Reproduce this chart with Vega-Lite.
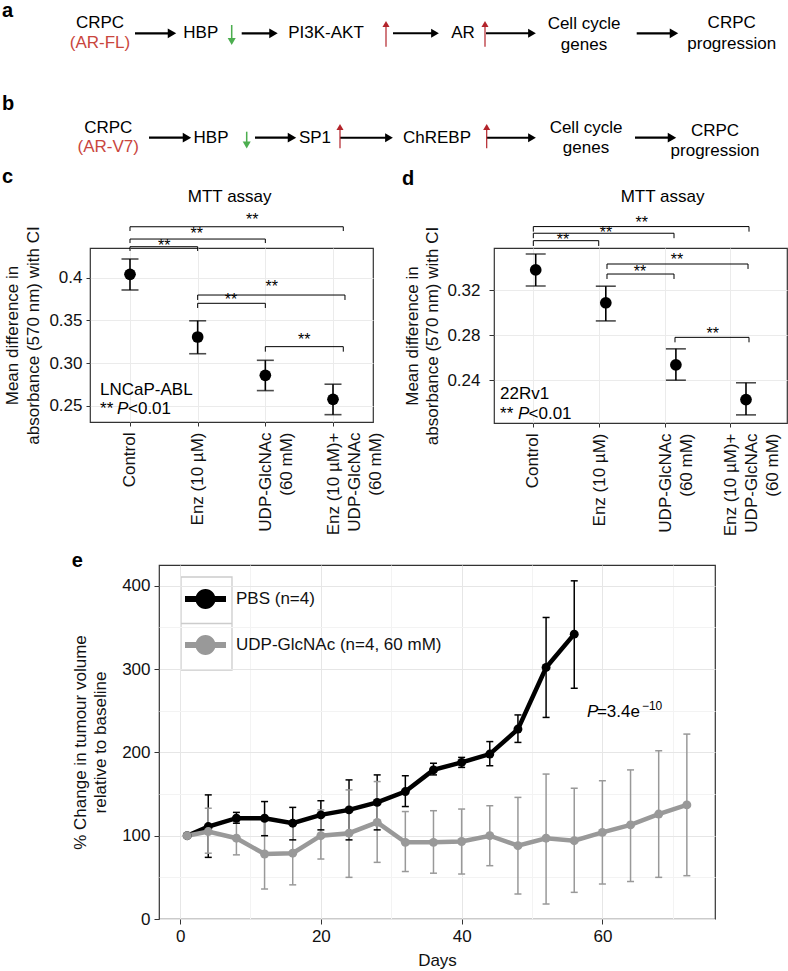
{
  "$schema": "https://vega.github.io/schema/vega-lite/v6.json",
  "background": "white",
  "padding": {"left": 2, "top": 0, "right": 0, "bottom": 0},
  "bounds": "flush",
  "spacing": 142,
  "resolve": {
    "scale": {"color": "independent", "fill": "independent", "stroke": "independent", "shape": "independent", "size": "independent", "strokeWidth": "independent"},
    "legend": {"fill": "independent", "shape": "independent"}
  },
  "config": {
    "font": "Liberation Sans",
    "view": {"stroke": "#333333", "strokeWidth": 1.2},
    "axis": {"domain": false, "labelFontSize": 17, "labelColor": "#111111", "titleFontSize": 17, "titleFontWeight": "normal", "titleColor": "#111111", "tickColor": "#333333", "gridColor": "#ebebeb", "labelOverlap": false, "labelFlush": false}
  },
  "vconcat": [
    {
      "width": 698,
      "height": 106,
      "view": {"stroke": null, "fill": "white"},
      "layer": [
        {
          "data": {"values": [
            {"t": "CRPC", "x": 100, "y": 23.3, "kind": "node"},
            {"t": "(AR-FL)", "x": 100, "y": 43.3, "kind": "variant"},
            {"t": "HBP", "x": 200.8, "y": 33.3, "kind": "node"},
            {"t": "PI3K-AKT", "x": 326, "y": 33.3, "kind": "node"},
            {"t": "AR", "x": 463, "y": 33.3, "kind": "node"},
            {"t": "Cell cycle", "x": 584, "y": 24, "kind": "node"},
            {"t": "genes", "x": 584, "y": 45, "kind": "node"},
            {"t": "CRPC", "x": 731.7, "y": 23.3, "kind": "node"},
            {"t": "progression", "x": 731.7, "y": 44, "kind": "node"},
            {"t": "CRPC", "x": 108.3, "y": 127.7, "kind": "node"},
            {"t": "(AR-V7)", "x": 108.3, "y": 146.7, "kind": "variant"},
            {"t": "HBP", "x": 211, "y": 137.7, "kind": "node"},
            {"t": "SP1", "x": 315, "y": 137.7, "kind": "node"},
            {"t": "ChREBP", "x": 437, "y": 137.7, "kind": "node"},
            {"t": "Cell cycle", "x": 586, "y": 128.3, "kind": "node"},
            {"t": "genes", "x": 586, "y": 148.3, "kind": "node"},
            {"t": "CRPC", "x": 715, "y": 130.7, "kind": "node"},
            {"t": "progression", "x": 715, "y": 150.7, "kind": "node"}
          ]},
          "mark": {"type": "text", "fontSize": 17, "align": "center", "baseline": "middle"},
          "encoding": {
            "x": {"field": "x", "type": "quantitative", "scale": {"domain": [90, 788], "nice": false, "zero": false}, "axis": null},
            "y": {"field": "y", "type": "quantitative", "scale": {"domain": [0, 106], "reverse": true, "nice": false, "zero": false}, "axis": null},
            "text": {"field": "t"},
            "color": {"field": "kind", "type": "nominal", "scale": {"domain": ["node", "variant", "major", "minor", "down", "up"], "range": ["#000000", "#c9463d", "#000000", "#000000", "#4cae4f", "#b3232a"]}, "legend": null}
          }
        },
        {
          "data": {"values": [
            {"x": 135, "y": 33.3, "x2": 172, "y2": 33.3, "kind": "major"},
            {"x": 241.7, "y": 33.3, "x2": 273.5, "y2": 33.3, "kind": "major"},
            {"x": 393, "y": 33.3, "x2": 435, "y2": 33.3, "kind": "minor"},
            {"x": 486, "y": 33.3, "x2": 532, "y2": 33.3, "kind": "minor"},
            {"x": 636.7, "y": 33.3, "x2": 674, "y2": 33.3, "kind": "major"},
            {"x": 231.7, "y": 25, "x2": 231.7, "y2": 41.5, "kind": "down"},
            {"x": 386, "y": 46.7, "x2": 386, "y2": 24, "kind": "up"},
            {"x": 485, "y": 46.7, "x2": 485, "y2": 24, "kind": "up"},
            {"x": 149, "y": 137.7, "x2": 187, "y2": 137.7, "kind": "major"},
            {"x": 255, "y": 137.7, "x2": 292, "y2": 137.7, "kind": "major"},
            {"x": 340, "y": 137.7, "x2": 389, "y2": 137.7, "kind": "minor"},
            {"x": 486.7, "y": 137.7, "x2": 532, "y2": 137.7, "kind": "minor"},
            {"x": 635, "y": 137.7, "x2": 672, "y2": 137.7, "kind": "major"},
            {"x": 246.7, "y": 131.7, "x2": 246.7, "y2": 145, "kind": "down"},
            {"x": 340, "y": 148.3, "x2": 340, "y2": 127, "kind": "up"},
            {"x": 486.7, "y": 148.3, "x2": 486.7, "y2": 127, "kind": "up"}
          ]},
          "layer": [
            {
              "mark": {"type": "rule"},
              "encoding": {
                "x": {"field": "x", "type": "quantitative", "scale": {"domain": [90, 788], "nice": false, "zero": false}, "axis": null},
                "y": {"field": "y", "type": "quantitative", "scale": {"domain": [0, 106], "reverse": true, "nice": false, "zero": false}, "axis": null},
                "x2": {"field": "x2"},
                "y2": {"field": "y2"},
                "color": {"field": "kind", "type": "nominal", "scale": {"domain": ["node", "variant", "major", "minor", "down", "up"], "range": ["#000000", "#c9463d", "#000000", "#000000", "#4cae4f", "#b3232a"]}, "legend": null},
                "strokeWidth": {"field": "kind", "type": "nominal", "scale": {"domain": ["major", "minor", "down", "up"], "range": [2.2, 1.2, 2.8, 2.8]}, "legend": null}
              }
            },
            {
              "mark": {"type": "point", "filled": true, "opacity": 1},
              "encoding": {
                "x": {"field": "x2", "type": "quantitative", "scale": {"domain": [90, 788], "nice": false, "zero": false}, "axis": null},
                "y": {"field": "y2", "type": "quantitative", "scale": {"domain": [0, 106], "reverse": true, "nice": false, "zero": false}, "axis": null},
                "color": {"field": "kind", "type": "nominal", "scale": {"domain": ["node", "variant", "major", "minor", "down", "up"], "range": ["#000000", "#c9463d", "#000000", "#000000", "#4cae4f", "#b3232a"]}, "legend": null},
                "shape": {"field": "kind", "type": "nominal", "scale": {"domain": ["major", "minor", "down", "up"], "range": ["triangle-right", "triangle-right", "triangle-down", "triangle-up"]}, "legend": null},
                "size": {"field": "kind", "type": "nominal", "scale": {"domain": ["major", "minor", "down", "up"], "range": [95, 50, 110, 110]}, "legend": null}
              }
            }
          ]
        },
        {
          "data": {"values": [
            {"t": "a", "x": 2, "y": 17},
            {"t": "b", "x": 2, "y": 110},
            {"t": "c", "x": 2, "y": 183},
            {"t": "d", "x": 402, "y": 185}
          ]},
          "mark": {"type": "text", "fontSize": 20, "fontWeight": "bold", "align": "left", "baseline": "alphabetic", "color": "#000000"},
          "encoding": {
            "x": {"field": "x", "type": "quantitative", "scale": {"domain": [90, 788], "nice": false, "zero": false}, "axis": null},
            "y": {"field": "y", "type": "quantitative", "scale": {"domain": [0, 106], "reverse": true, "nice": false, "zero": false}, "axis": null},
            "text": {"field": "t"}
          }
        }
      ]
    },
    {
      "hconcat": [
        {
          "width": 283,
          "height": 174,
          "layer": [
            {
              "data": {"values": [
                {"pos": 1, "treatment": "Control", "mean": 0.404, "lo": 0.3856, "hi": 0.4219},
                {"pos": 2, "treatment": "Enz (10 µM)", "mean": 0.3305, "lo": 0.3109, "hi": 0.3495},
                {"pos": 3, "treatment": "UDP-GlcNAc (60 mM)", "mean": 0.2856, "lo": 0.2677, "hi": 0.3032},
                {"pos": 4, "treatment": "Enz (10 µM)+UDP-GlcNAc (60 mM)", "mean": 0.2575, "lo": 0.2395, "hi": 0.2752}
              ]},
              "layer": [
                {
                  "mark": {"type": "rule", "strokeWidth": 1.6, "color": "#000000"},
                  "encoding": {
                    "x": {"field": "pos", "type": "quantitative", "scale": {"domain": [0.409, 4.591], "nice": false, "zero": false},
                      "axis": {"values": [1, 2, 3, 4], "labelExpr": "datum.value == 1 ? 'Control' : datum.value == 2 ? 'Enz (10 µM)' : datum.value == 3 ? ['UDP-GlcNAc', '(60 mM)'] : ['Enz (10 µM)+', 'UDP-GlcNAc', '(60 mM)']", "labelAngle": 270, "labelAlign": "right", "labelBaseline": "middle", "labelPadding": 6, "labelLineHeight": 21, "tickSize": 4, "grid": true, "title": null}},
                    "y": {"field": "lo", "type": "quantitative", "scale": {"domain": [0.2309, 0.4348], "nice": false, "zero": false},
                      "axis": {"values": [0.25, 0.3, 0.35, 0.4], "labelExpr": "datum.value > 0.39 ? '0.4' : format(datum.value, '.2f')", "tickSize": 4, "labelPadding": 4, "grid": true, "title": ["Mean difference in", "absorbance (570 nm) with CI"], "titlePadding": 6, "titleLineHeight": 21}},
                    "y2": {"field": "hi"}
                  }
                },
                {
                  "mark": {"type": "tick", "orient": "horizontal", "size": 17, "thickness": 1.6, "color": "#000000"},
                  "encoding": {"x": {"field": "pos", "type": "quantitative"}, "y": {"field": "lo", "type": "quantitative"}}
                },
                {
                  "mark": {"type": "tick", "orient": "horizontal", "size": 17, "thickness": 1.6, "color": "#000000"},
                  "encoding": {"x": {"field": "pos", "type": "quantitative"}, "y": {"field": "hi", "type": "quantitative"}}
                },
                {
                  "mark": {"type": "point", "filled": true, "size": 137, "opacity": 1, "color": "#000000"},
                  "encoding": {"x": {"field": "pos", "type": "quantitative"}, "y": {"field": "mean", "type": "quantitative"}}
                }
              ]
            },
            {
              "data": {"values": [
                {"x1": 1, "x2": 2, "y": 0.4363, "yEnd": 0.4313, "sx": 1.507, "sy": 0.4406},
                {"x1": 1, "x2": 3, "y": 0.4453, "yEnd": 0.4406, "sx": 1.986, "sy": 0.4547},
                {"x1": 1, "x2": 4.152, "y": 0.4597, "yEnd": 0.4547, "sx": 2.807, "sy": 0.4707},
                {"x1": 2, "x2": 4.177, "y": 0.3797, "yEnd": 0.3739, "sx": 3.094, "sy": 0.3926},
                {"x1": 2, "x2": 3, "y": 0.370, "yEnd": 0.3645, "sx": 2.493, "sy": 0.377},
                {"x1": 3, "x2": 4.152, "y": 0.3192, "yEnd": 0.3133, "sx": 3.576, "sy": 0.3302}
              ]},
              "layer": [
                {"mark": {"type": "rule", "strokeWidth": 1, "color": "#000000"},
                 "encoding": {"x": {"field": "x1", "type": "quantitative"}, "x2": {"field": "x2"}, "y": {"field": "y", "type": "quantitative"}}},
                {"mark": {"type": "rule", "strokeWidth": 1, "color": "#000000"},
                 "encoding": {"x": {"field": "x1", "type": "quantitative"}, "y": {"field": "y", "type": "quantitative"}, "y2": {"field": "yEnd"}}},
                {"mark": {"type": "rule", "strokeWidth": 1, "color": "#000000"},
                 "encoding": {"x": {"field": "x2", "type": "quantitative"}, "y": {"field": "y", "type": "quantitative"}, "y2": {"field": "yEnd"}}},
                {"mark": {"type": "text", "text": "**", "fontSize": 16, "baseline": "middle", "align": "center", "dy": 3, "color": "#000000"},
                 "encoding": {"x": {"field": "sx", "type": "quantitative"}, "y": {"field": "sy", "type": "quantitative"}}}
              ]
            },
            {
              "data": {"values": [{}]},
              "layer": [
                {"mark": {"type": "text", "text": "MTT assay", "fontSize": 17, "align": "center", "baseline": "middle", "color": "#000000"},
                 "encoding": {"x": {"datum": 2.473, "type": "quantitative"}, "y": {"datum": 0.4945, "type": "quantitative"}}},
                {"mark": {"type": "text", "text": "LNCaP-ABL", "fontSize": 17, "align": "left", "baseline": "middle", "color": "#000000"},
                 "encoding": {"x": {"datum": 0.557, "type": "quantitative"}, "y": {"datum": 0.2685, "type": "quantitative"}}},
                {"mark": {"type": "text", "text": "**", "fontSize": 17, "align": "left", "baseline": "middle", "color": "#000000"},
                 "encoding": {"x": {"datum": 0.557, "type": "quantitative"}, "y": {"datum": 0.2459, "type": "quantitative"}}},
                {"mark": {"type": "text", "text": "P", "fontSize": 17, "fontStyle": "italic", "align": "left", "baseline": "middle", "dx": 17, "color": "#000000"},
                 "encoding": {"x": {"datum": 0.557, "type": "quantitative"}, "y": {"datum": 0.2459, "type": "quantitative"}}},
                {"mark": {"type": "text", "text": "<0.01", "fontSize": 17, "align": "left", "baseline": "middle", "dx": 28, "color": "#000000"},
                 "encoding": {"x": {"datum": 0.557, "type": "quantitative"}, "y": {"datum": 0.2459, "type": "quantitative"}}}
              ]
            }
          ]
        },
        {
          "width": 293,
          "height": 175,
          "layer": [
            {
              "data": {"values": [
                {"pos": 1, "treatment": "Control", "mean": 0.3378, "lo": 0.3236, "hi": 0.352},
                {"pos": 2, "treatment": "Enz (10 µM)", "mean": 0.3087, "lo": 0.2926, "hi": 0.3234},
                {"pos": 3, "treatment": "UDP-GlcNAc (60 mM)", "mean": 0.2536, "lo": 0.24, "hi": 0.2678},
                {"pos": 4, "treatment": "Enz (10 µM)+UDP-GlcNAc (60 mM)", "mean": 0.2228, "lo": 0.2092, "hi": 0.2377}
              ]},
              "layer": [
                {
                  "mark": {"type": "rule", "strokeWidth": 1.6, "color": "#000000"},
                  "encoding": {
                    "x": {"field": "pos", "type": "quantitative", "scale": {"domain": [0.405, 4.585], "nice": false, "zero": false},
                      "axis": {"values": [0.961, 1.907, 2.845, 3.772], "labelExpr": "datum.value < 1.5 ? 'Control' : datum.value < 2.4 ? 'Enz (10 µM)' : datum.value < 3.3 ? ['UDP-GlcNAc', '(60 mM)'] : ['Enz (10 µM)+', 'UDP-GlcNAc', '(60 mM)']", "labelAngle": 270, "labelAlign": "right", "labelBaseline": "middle", "labelPadding": 6, "labelLineHeight": 21, "tickSize": 4, "grid": true, "title": null}},
                    "y": {"field": "lo", "type": "quantitative", "scale": {"domain": [0.202, 0.3573], "nice": false, "zero": false},
                      "axis": {"values": [0.24, 0.28, 0.32], "format": ".2f", "tickSize": 5, "labelPadding": 9, "grid": true, "title": ["Mean difference in", "absorbance (570 nm) with CI"], "titlePadding": 5, "titleLineHeight": 20}},
                    "y2": {"field": "hi"}
                  }
                },
                {
                  "mark": {"type": "tick", "orient": "horizontal", "size": 20, "thickness": 1.6, "color": "#000000"},
                  "encoding": {"x": {"field": "pos", "type": "quantitative"}, "y": {"field": "lo", "type": "quantitative"}}
                },
                {
                  "mark": {"type": "tick", "orient": "horizontal", "size": 20, "thickness": 1.6, "color": "#000000"},
                  "encoding": {"x": {"field": "pos", "type": "quantitative"}, "y": {"field": "hi", "type": "quantitative"}}
                },
                {
                  "mark": {"type": "point", "filled": true, "size": 137, "opacity": 1, "color": "#000000"},
                  "encoding": {"x": {"field": "pos", "type": "quantitative"}, "y": {"field": "mean", "type": "quantitative"}}
                }
              ]
            },
            {
              "data": {"values": [
                {"x1": 0.966, "x2": 1.899, "y": 0.3638, "yEnd": 0.3591, "sx": 1.39, "sy": 0.3674},
                {"x1": 0.966, "x2": 2.973, "y": 0.3704, "yEnd": 0.366, "sx": 2.003, "sy": 0.3733},
                {"x1": 0.966, "x2": 4.043, "y": 0.3763, "yEnd": 0.3718, "sx": 2.512, "sy": 0.3822},
                {"x1": 2.017, "x2": 4.029, "y": 0.3431, "yEnd": 0.3387, "sx": 3.016, "sy": 0.3491},
                {"x1": 2.017, "x2": 2.973, "y": 0.3342, "yEnd": 0.3298, "sx": 2.488, "sy": 0.3389},
                {"x1": 2.987, "x2": 4.043, "y": 0.278, "yEnd": 0.2736, "sx": 3.525, "sy": 0.2838}
              ]},
              "layer": [
                {"mark": {"type": "rule", "strokeWidth": 1, "color": "#000000"},
                 "encoding": {"x": {"field": "x1", "type": "quantitative"}, "x2": {"field": "x2"}, "y": {"field": "y", "type": "quantitative"}}},
                {"mark": {"type": "rule", "strokeWidth": 1, "color": "#000000"},
                 "encoding": {"x": {"field": "x1", "type": "quantitative"}, "y": {"field": "y", "type": "quantitative"}, "y2": {"field": "yEnd"}}},
                {"mark": {"type": "rule", "strokeWidth": 1, "color": "#000000"},
                 "encoding": {"x": {"field": "x2", "type": "quantitative"}, "y": {"field": "y", "type": "quantitative"}, "y2": {"field": "yEnd"}}},
                {"mark": {"type": "text", "text": "**", "fontSize": 16, "baseline": "middle", "align": "center", "dy": 3, "color": "#000000"},
                 "encoding": {"x": {"field": "sx", "type": "quantitative"}, "y": {"field": "sy", "type": "quantitative"}}}
              ]
            },
            {
              "data": {"values": [{}]},
              "layer": [
                {"mark": {"type": "text", "text": "MTT assay", "fontSize": 17, "align": "center", "baseline": "middle", "color": "#000000"},
                 "encoding": {"x": {"datum": 2.809, "type": "quantitative"}, "y": {"datum": 0.4024, "type": "quantitative"}}},
                {"mark": {"type": "text", "text": "22Rv1", "fontSize": 17, "align": "left", "baseline": "middle", "color": "#000000"},
                 "encoding": {"x": {"datum": 0.491, "type": "quantitative"}, "y": {"datum": 0.2276, "type": "quantitative"}}},
                {"mark": {"type": "text", "text": "**", "fontSize": 17, "align": "left", "baseline": "middle", "color": "#000000"},
                 "encoding": {"x": {"datum": 0.491, "type": "quantitative"}, "y": {"datum": 0.2104, "type": "quantitative"}}},
                {"mark": {"type": "text", "text": "P", "fontSize": 17, "fontStyle": "italic", "align": "left", "baseline": "middle", "dx": 18, "color": "#000000"},
                 "encoding": {"x": {"datum": 0.491, "type": "quantitative"}, "y": {"datum": 0.2104, "type": "quantitative"}}},
                {"mark": {"type": "text", "text": "<0.01", "fontSize": 17, "align": "left", "baseline": "middle", "dx": 28.5, "color": "#000000"},
                 "encoding": {"x": {"datum": 0.491, "type": "quantitative"}, "y": {"datum": 0.2104, "type": "quantitative"}}}
              ]
            }
          ]
        }
      ],
      "spacing": 121,
      "bounds": "flush"
    },
    {
      "width": 1,
      "height": 33,
      "view": {"stroke": null},
      "data": {"values": [{}]},
      "mark": {"type": "text", "text": ""},
      "encoding": {}
    },
    {
      "hconcat": [
        {
          "width": 59,
          "height": 10,
          "view": {"stroke": null},
          "data": {"values": [{"k": "keys"}]},
          "mark": {"type": "point", "opacity": 0},
          "encoding": {
            "shape": {"field": "k", "type": "nominal", "scale": {"domain": ["keys"], "range": ["M-1,-1.8235H1V1.8235H-1Z M-1,0H1"]},
              "legend": {"orient": "none", "legendX": 90, "legendY": 32, "title": null, "symbolSize": 2601, "symbolFillColor": "#ffffff", "symbolStrokeColor": "#cccccc", "symbolStrokeWidth": 1.3, "symbolOpacity": 1, "labelExpr": "''", "padding": 0}}
          }
        },
        {
          "width": 556,
          "height": 354,
          "layer": [
            {
              "data": {"values": [
                {"day": 1, "group": "PBS (n=4)", "mean": 100},
                {"day": 4, "group": "PBS (n=4)", "mean": 111, "lo": 74, "hi": 149},
                {"day": 8, "group": "PBS (n=4)", "mean": 121, "lo": 115, "hi": 128},
                {"day": 12, "group": "PBS (n=4)", "mean": 121, "lo": 100, "hi": 141},
                {"day": 16, "group": "PBS (n=4)", "mean": 115, "lo": 95, "hi": 134},
                {"day": 20, "group": "PBS (n=4)", "mean": 125, "lo": 107, "hi": 142},
                {"day": 24, "group": "PBS (n=4)", "mean": 131, "lo": 95, "hi": 167},
                {"day": 28, "group": "PBS (n=4)", "mean": 140, "lo": 107, "hi": 173},
                {"day": 32, "group": "PBS (n=4)", "mean": 153, "lo": 135, "hi": 172},
                {"day": 36, "group": "PBS (n=4)", "mean": 179, "lo": 173, "hi": 187},
                {"day": 40, "group": "PBS (n=4)", "mean": 188, "lo": 182, "hi": 194},
                {"day": 44, "group": "PBS (n=4)", "mean": 198, "lo": 184, "hi": 213},
                {"day": 48, "group": "PBS (n=4)", "mean": 228, "lo": 212, "hi": 245},
                {"day": 52, "group": "PBS (n=4)", "mean": 302, "lo": 242, "hi": 362},
                {"day": 56, "group": "PBS (n=4)", "mean": 342, "lo": 277, "hi": 406},
                {"day": 1, "group": "UDP-GlcNAc (n=4, 60 mM)", "mean": 100},
                {"day": 4, "group": "UDP-GlcNAc (n=4, 60 mM)", "mean": 105, "lo": 79, "hi": 133},
                {"day": 8, "group": "UDP-GlcNAc (n=4, 60 mM)", "mean": 97, "lo": 77, "hi": 118},
                {"day": 12, "group": "UDP-GlcNAc (n=4, 60 mM)", "mean": 78, "lo": 36, "hi": 120},
                {"day": 16, "group": "UDP-GlcNAc (n=4, 60 mM)", "mean": 79, "lo": 41, "hi": 117},
                {"day": 20, "group": "UDP-GlcNAc (n=4, 60 mM)", "mean": 100, "lo": 72, "hi": 131},
                {"day": 24, "group": "UDP-GlcNAc (n=4, 60 mM)", "mean": 103, "lo": 50, "hi": 155},
                {"day": 28, "group": "UDP-GlcNAc (n=4, 60 mM)", "mean": 116, "lo": 68, "hi": 165},
                {"day": 32, "group": "UDP-GlcNAc (n=4, 60 mM)", "mean": 92, "lo": 57, "hi": 129},
                {"day": 36, "group": "UDP-GlcNAc (n=4, 60 mM)", "mean": 92, "lo": 55, "hi": 130},
                {"day": 40, "group": "UDP-GlcNAc (n=4, 60 mM)", "mean": 93, "lo": 54, "hi": 132},
                {"day": 44, "group": "UDP-GlcNAc (n=4, 60 mM)", "mean": 100, "lo": 64, "hi": 136},
                {"day": 48, "group": "UDP-GlcNAc (n=4, 60 mM)", "mean": 88, "lo": 30, "hi": 146},
                {"day": 52, "group": "UDP-GlcNAc (n=4, 60 mM)", "mean": 97, "lo": 18, "hi": 174},
                {"day": 56, "group": "UDP-GlcNAc (n=4, 60 mM)", "mean": 94, "lo": 32, "hi": 157},
                {"day": 60, "group": "UDP-GlcNAc (n=4, 60 mM)", "mean": 104, "lo": 42, "hi": 166},
                {"day": 64, "group": "UDP-GlcNAc (n=4, 60 mM)", "mean": 113, "lo": 45, "hi": 179},
                {"day": 68, "group": "UDP-GlcNAc (n=4, 60 mM)", "mean": 126, "lo": 50, "hi": 202},
                {"day": 72, "group": "UDP-GlcNAc (n=4, 60 mM)", "mean": 137, "lo": 52, "hi": 222}
              ]},
              "layer": [
                {
                  "transform": [{"filter": "isValid(datum.lo)"}],
                  "mark": {"type": "rule", "strokeWidth": 1.5},
                  "encoding": {
                    "x": {"field": "day", "type": "quantitative", "scale": {"domain": [-3, 76], "nice": false, "zero": false},
                      "axis": {"values": [0, 10, 20, 30, 40, 50, 60, 70], "labelExpr": "datum.value % 20 == 0 ? datum.label : ''", "tickOpacity": {"condition": {"test": "datum.value % 20 != 0", "value": 0}, "value": 1}, "gridColor": {"condition": {"test": "datum.value % 20 != 0", "value": "#f3f3f3"}, "value": "#e6e6e6"}, "grid": true, "tickSize": 5, "labelPadding": 4, "title": "Days", "titlePadding": 8}},
                    "y": {"field": "lo", "type": "quantitative", "scale": {"domain": [0, 425], "nice": false, "zero": false},
                      "axis": {"values": [0, 50, 100, 150, 200, 250, 300, 350, 400], "labelExpr": "datum.value % 100 == 0 ? datum.label : ''", "tickOpacity": {"condition": {"test": "datum.value % 100 != 0", "value": 0}, "value": 1}, "gridColor": {"condition": {"test": "datum.value % 100 != 0", "value": "#f3f3f3"}, "value": "#e6e6e6"}, "grid": true, "tickSize": 5, "labelPadding": 4, "title": ["% Change in tumour volume", "relative to baseline"], "titlePadding": 12, "titleLineHeight": 20}},
                    "y2": {"field": "hi"},
                    "color": {"field": "group", "type": "nominal", "scale": {"range": ["#000000", "#999999"]}, "legend": null}
                  }
                },
                {
                  "transform": [{"filter": "isValid(datum.lo)"}],
                  "mark": {"type": "tick", "orient": "horizontal", "size": 7, "thickness": 1.5, "opacity": 1},
                  "encoding": {
                    "x": {"field": "day", "type": "quantitative"},
                    "y": {"field": "lo", "type": "quantitative"},
                    "color": {"field": "group", "type": "nominal", "scale": {"range": ["#000000", "#999999"]}, "legend": null}
                  }
                },
                {
                  "transform": [{"filter": "isValid(datum.hi)"}],
                  "mark": {"type": "tick", "orient": "horizontal", "size": 7, "thickness": 1.5, "opacity": 1},
                  "encoding": {
                    "x": {"field": "day", "type": "quantitative"},
                    "y": {"field": "hi", "type": "quantitative"},
                    "color": {"field": "group", "type": "nominal", "scale": {"range": ["#000000", "#999999"]}, "legend": null}
                  }
                },
                {
                  "mark": {"type": "line", "strokeWidth": 4.5},
                  "encoding": {
                    "x": {"field": "day", "type": "quantitative"},
                    "y": {"field": "mean", "type": "quantitative"},
                    "stroke": {"field": "group", "type": "nominal", "scale": {"range": ["#000000", "#999999"]}, "legend": null}
                  }
                },
                {
                  "mark": {"type": "point", "filled": true, "size": 80, "opacity": 1},
                  "encoding": {
                    "x": {"field": "day", "type": "quantitative"},
                    "y": {"field": "mean", "type": "quantitative"},
                    "fill": {"field": "group", "type": "nominal", "scale": {"domain": ["PBS (n=4)", "UDP-GlcNAc (n=4, 60 mM)"], "range": ["#000000", "#999999"]},
                      "legend": {"orient": "none", "legendX": 26, "legendY": 13.5, "title": null, "symbolType": "M-1,-0.146H1V0.146H-1Z M-0.49,0A0.49,0.49,0,1,1,0.49,0A0.49,0.49,0,1,1,-0.49,0Z", "symbolSize": 1681, "symbolStrokeWidth": 0, "labelFontSize": 17, "labelColor": "#111111", "labelOffset": 10, "labelLimit": 400, "rowPadding": 15, "padding": 0}}
                  }
                }
              ]
            },
            {
              "data": {"values": [{}]},
              "layer": [
                {"mark": {"type": "text", "text": "e", "fontSize": 20, "fontWeight": "bold", "align": "left", "baseline": "alphabetic", "color": "#000000"},
                 "encoding": {"x": {"datum": -15.4, "type": "quantitative"}, "y": {"datum": 422.4, "type": "quantitative"}}},
                {"mark": {"type": "text", "text": "P", "fontSize": 17, "fontStyle": "italic", "align": "left", "baseline": "middle", "color": "#000000"},
                 "encoding": {"x": {"datum": 57.8, "type": "quantitative"}, "y": {"datum": 249, "type": "quantitative"}}},
                {"mark": {"type": "text", "text": "=3.4e", "fontSize": 17, "align": "left", "baseline": "middle", "dx": 10, "color": "#000000"},
                 "encoding": {"x": {"datum": 57.8, "type": "quantitative"}, "y": {"datum": 249, "type": "quantitative"}}},
                {"mark": {"type": "text", "text": "−10", "fontSize": 12, "align": "left", "baseline": "middle", "dx": 55, "dy": -6, "color": "#000000"},
                 "encoding": {"x": {"datum": 57.8, "type": "quantitative"}, "y": {"datum": 249, "type": "quantitative"}}}
              ]
            }
          ]
        }
      ],
      "spacing": 10,
      "bounds": "flush",
      "resolve": {
        "scale": {"fill": "independent", "shape": "independent", "color": "independent", "stroke": "independent"},
        "legend": {"fill": "independent", "shape": "independent"}
      }
    }
  ]
}
